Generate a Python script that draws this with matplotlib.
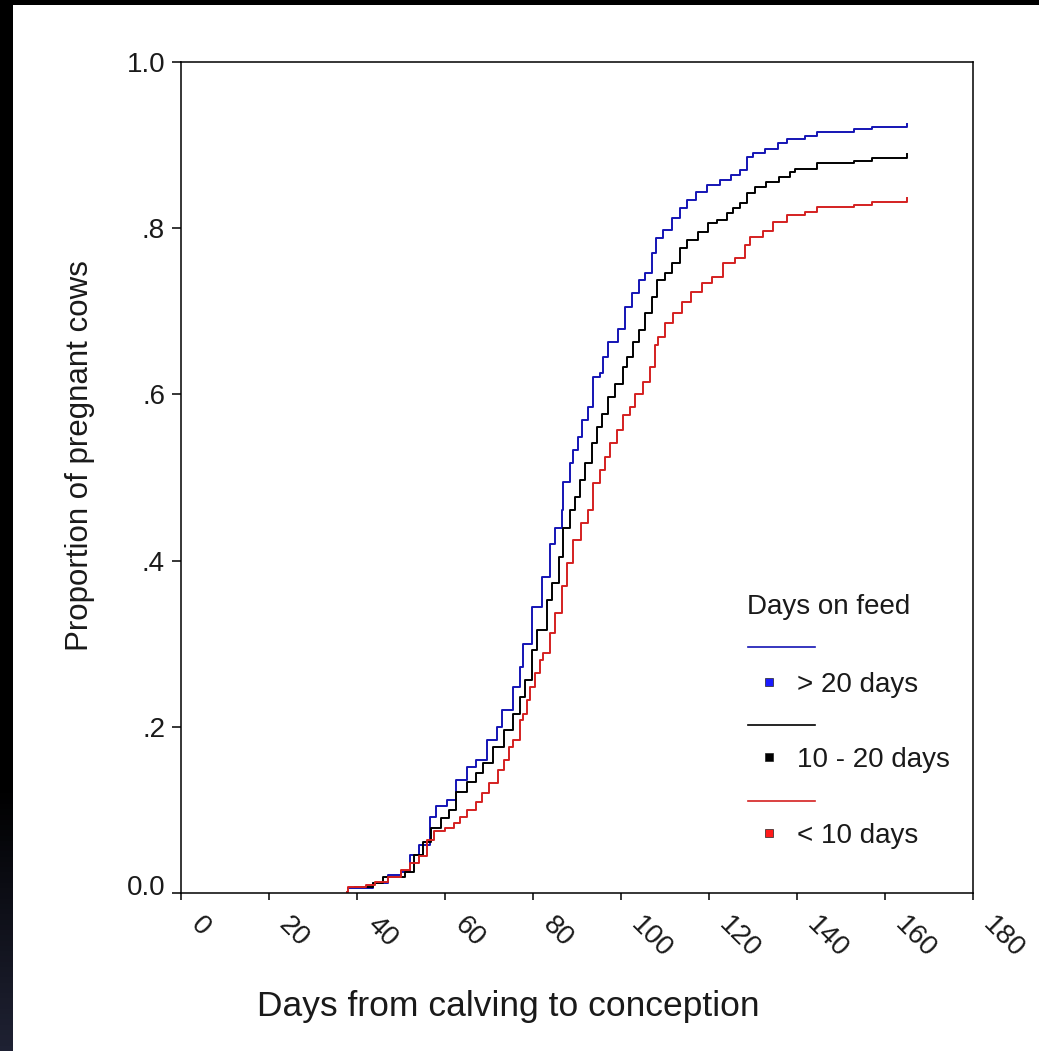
import numpy as np
import matplotlib
matplotlib.use("Agg")
import matplotlib.pyplot as plt
from matplotlib.lines import Line2D
from matplotlib.transforms import ScaledTranslation

plt.rcParams['font.family'] = ['Liberation Sans', 'DejaVu Sans']

# ==============================
# Data
# ==============================
blue_days = [38, 43.6, 47, 50, 52, 54, 56.6, 58, 60.5, 62.5, 65, 67, 69.5, 71.8, 73,
             75.5, 77, 77.8, 79.8, 82, 83.9, 85, 86.6, 86.9, 88.4, 89.2, 90.3, 91.1,
             92.5, 93.6, 95.2, 96, 97, 99.3, 101, 102.5, 104, 105.5, 107, 108, 109.6,
             111.5, 113.4, 115, 117, 119.5, 122.5, 125, 127, 128.6, 130, 132.7, 135.7,
             137.7, 141.8, 144.5, 153, 157, 165]
blue_prop = [0.006, 0.012, 0.022, 0.025, 0.046, 0.058, 0.091, 0.105, 0.112, 0.136, 0.152,
             0.16, 0.184, 0.2, 0.22, 0.248, 0.272, 0.30, 0.344, 0.38, 0.42, 0.439, 0.461,
             0.495, 0.517, 0.533, 0.549, 0.569, 0.585, 0.621, 0.626, 0.645, 0.663, 0.679,
             0.705, 0.722, 0.738, 0.746, 0.770, 0.788, 0.798, 0.812, 0.824, 0.834, 0.844,
             0.852, 0.858, 0.864, 0.870, 0.886, 0.890, 0.895, 0.902, 0.907, 0.911, 0.916,
             0.919, 0.922, 0.925]

black_days = [39.5, 43.6, 46, 51, 53, 55, 56.8, 59, 61, 62.5, 65, 67, 68.7, 71, 73.3,
              75.5, 77, 78.2, 79.8, 81, 83.2, 84.3, 86, 86.9, 88.4, 89.5, 90.7, 91.8,
              93.4, 94.5, 95.7, 97, 98.6, 100.5, 101.3, 102.7, 104, 105.5, 107, 108.2,
              110, 111.6, 113.4, 115, 117.5, 119.8, 121.8, 124, 125.5, 127, 128.6, 130.5,
              133, 136, 138.4, 139.5, 144.5, 153, 157, 165]
black_prop = [0.007, 0.012, 0.019, 0.025, 0.046, 0.061, 0.078, 0.09, 0.10, 0.122, 0.134,
              0.145, 0.156, 0.176, 0.196, 0.216, 0.236, 0.256, 0.292, 0.316, 0.352, 0.373,
              0.404, 0.439, 0.461, 0.477, 0.497, 0.517, 0.541, 0.561, 0.577, 0.597, 0.613,
              0.633, 0.645, 0.663, 0.677, 0.698, 0.717, 0.738, 0.746, 0.758, 0.776, 0.786,
              0.796, 0.806, 0.81, 0.818, 0.824, 0.83, 0.842, 0.85, 0.855, 0.862, 0.868,
              0.871, 0.879, 0.881, 0.884, 0.889]

red_days = [37.7, 38, 42, 44, 47, 50, 52, 54, 56, 57.4, 60, 62, 63.4, 65, 67, 68.5, 70,
            72, 73.3, 74.5, 75.5, 77, 77.8, 78.6, 79.3, 80.5, 81.5, 82.3, 83.9, 85, 86.6,
            87.7, 89.2, 91, 92.5, 93.6, 95.2, 96.4, 97.5, 99, 100.5, 102, 103.2, 105,
            106.6, 107.7, 108.4, 110, 111.8, 113.8, 116, 118.4, 120.7, 123.2, 125.9,
            128.2, 129.3, 132.3, 134.6, 137.7, 141.8, 144.5, 153, 157, 165]
red_prop = [0.001, 0.007, 0.01, 0.013, 0.019, 0.028, 0.036, 0.044, 0.064, 0.075, 0.078,
            0.084, 0.091, 0.1, 0.11, 0.12, 0.132, 0.148, 0.16, 0.176, 0.184, 0.208, 0.216,
            0.232, 0.248, 0.265, 0.280, 0.289, 0.313, 0.337, 0.37, 0.397, 0.425, 0.445,
            0.461, 0.493, 0.509, 0.525, 0.541, 0.557, 0.575, 0.585, 0.600, 0.615, 0.633,
            0.660, 0.669, 0.686, 0.698, 0.711, 0.723, 0.734, 0.741, 0.758, 0.764, 0.780,
            0.790, 0.797, 0.808, 0.816, 0.820, 0.826, 0.828, 0.832, 0.836]

x_ticks = [0, 20, 40, 60, 80, 100, 120, 140, 160, 180]
y_ticks = [0.0, 0.2, 0.4, 0.6, 0.8, 1.0]
y_tick_labels = ['0.0', '.2', '.4', '.6', '.8', '1.0']

groups = ['> 20 days', '10 - 20 days', '< 10 days']
line_colors = ['#1414b4', '#000000', '#d42020']
marker_colors = ['#1a1aff', '#000000', '#ff1a1a']
text_color = '#1a1a1a'

# ==============================
# Figure and background
# ==============================
W, H = 1039, 1051
fig = plt.figure(figsize=(W / 100, H / 100), dpi=100, facecolor='white')

# dark frame around the slide (black top strip, left strip fading to navy)
strip = fig.add_axes([0, 0, 13 / W, 1])
grad = np.clip((np.linspace(0, 1, 200) - 0.75) / 0.25, 0, 1)[:, None]
cols = np.zeros((200, 1, 3))
cols[:, 0, 0] = 0.12 * grad[:, 0]
cols[:, 0, 1] = 0.13 * grad[:, 0]
cols[:, 0, 2] = 0.20 * grad[:, 0]
strip.imshow(cols, aspect='auto', extent=[0, 1, 0, 1])
strip.axis('off')
top = fig.add_axes([0, 1 - 5 / H, 1, 5 / H])
top.set_facecolor('black')
top.set_xticks([])
top.set_yticks([])
for s in top.spines.values():
    s.set_visible(False)

# ==============================
# Main axes
# ==============================
x0, x1, y0, y1 = 181, 973, 62, 893
ax = fig.add_axes([x0 / W, 1 - y1 / H, (x1 - x0) / W, (y1 - y0) / H])

for d, p, c in zip([blue_days, black_days, red_days],
                   [blue_prop, black_prop, red_prop], line_colors):
    ax.plot(d, p, drawstyle='steps-post', color=c, lw=1.4)

ax.set_xlim(0, 180)
ax.set_ylim(0, 1.0)
ax.set_xticks(x_ticks)
ax.set_yticks(y_ticks)
ax.set_yticklabels(y_tick_labels)
for s in ax.spines.values():
    s.set_linewidth(1.1)

ax.tick_params(axis='y', direction='out', length=6.5, width=1.1, pad=5,
               labelsize=20, labelcolor=text_color)
ax.tick_params(axis='x', direction='out', length=5, width=1.1, pad=15,
               labelsize=20, labelcolor=text_color)

offset = ScaledTranslation(0.14, 0, fig.dpi_scale_trans)
for lab in ax.get_xticklabels():
    lab.set_rotation(-45)
    lab.set_ha('left')
    lab.set_va('center')
    lab.set_rotation_mode('anchor')
    lab.set_transform(lab.get_transform() + offset)

# the "0.0" label sits a little above its tick in the original
zero_lab = ax.get_yticklabels()[0]
zero_lab.set_transform(zero_lab.get_transform() +
                       ScaledTranslation(0, 0.08, fig.dpi_scale_trans))

ax.set_xlabel('Days from calving to conception', fontsize=25.5, color=text_color)
ax.xaxis.set_label_coords(0.413, -0.117)
ax.set_ylabel('Proportion of pregnant cows', fontsize=22.5, color=text_color)
ax.yaxis.set_label_coords(-0.109, 0.526)

# ==============================
# SPSS style legend
# ==============================
ax.text(0.7146, 0.344, 'Days on feed', transform=ax.transAxes,
        fontsize=20, ha='left', va='center', color=text_color)
line_y = [0.296, 0.202, 0.111]
mark_y = [0.254, 0.164, 0.072]
for g, lc, mc, ly, my in zip(groups, line_colors, marker_colors, line_y, mark_y):
    ax.add_line(Line2D([0.716, 0.8005], [ly, ly], transform=ax.transAxes,
                       color=lc, lw=1.2))
    ax.add_line(Line2D([0.742], [my], transform=ax.transAxes, marker='s',
                       markersize=6, color=mc, markeredgecolor='#222222',
                       markeredgewidth=0.5, linestyle='none'))
    ax.text(0.778, my - 0.004, g, transform=ax.transAxes, fontsize=20,
            ha='left', va='center', color=text_color)

plt.savefig('out.png', dpi=100, facecolor='white')
